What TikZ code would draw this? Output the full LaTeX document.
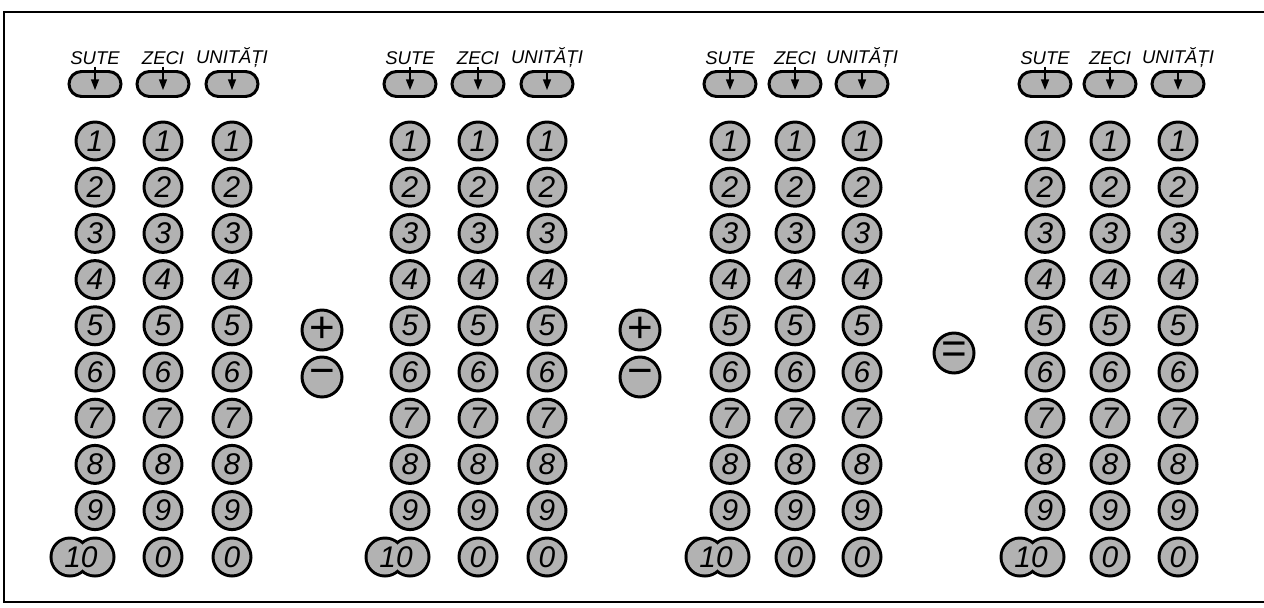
\documentclass[tikz,border=0pt]{standalone}
\usepackage{fontspec}
\setmainfont{Liberation Sans}
\usetikzlibrary{arrows.meta,calc}

\begin{document}
\begin{tikzpicture}[x=0.02cm, y=-0.02cm,
  key/.style={
    circle, draw=black, line width=1.7pt, fill=black!30,
    minimum size=0.76cm, inner sep=0pt, font=\fontsize{17}{17}\selectfont\itshape
  },
  opkey/.style={key, minimum size=0.8cm, font=\fontsize{25}{25}\selectfont},
  pill/.style={
    draw=black, line width=1.7pt, fill=black!30, rounded corners=0.25cm,
    minimum width=1.04cm, minimum height=0.5cm, inner sep=0pt
  },
  colname/.style={font=\fontsize{10.5}{11}\selectfont\itshape, inner sep=1pt},
  arrow/.style={-{Triangle[length=6pt,width=4.5pt]}, line width=0.8pt}
]
\useasboundingbox (0,0) rectangle (1264,608);
% frame
\draw[line width=1.4pt] (1264,12) -- (4,12) -- (4,602) -- (1264,602);

% four counting boards
\foreach \g/\xs/\xz/\xu in {1/95/163/232, 2/410/478/547, 3/730/795/862, 4/1045/1110/1178}{
  \foreach \c/\x/\lbltext in {s/\xs/SUTE, z/\xz/ZECI, u/\xu/UNITĂȚI}{
    \node[colname] (g\g-\c-lbl) at (\x,58) {\lbltext};
    \node[pill] (g\g-\c-pill) at (\x,84) {};
    \draw[arrow] (g\g-\c-lbl.south) -- ($(g\g-\c-pill.center)+(0,6)$);
    \foreach \d in {1,...,9}
      \node[key] (g\g-\c-\d) at (\x,{141+46.2*(\d-1)}) {\d};
  }
  \node[key] (g\g-z-0) at (\xz,557) {0};
  \node[key] (g\g-u-0) at (\xu,557) {0};
  % double key 10
  \draw[line width=3.4pt] (\xs-25,557) circle[radius=0.38cm-0.85pt] (\xs,557) circle[radius=0.38cm-0.85pt];
  \fill[black!30] (\xs-25,557) circle[radius=0.38cm-0.85pt] (\xs,557) circle[radius=0.38cm-0.85pt];
  \node[font=\fontsize{17}{17}\selectfont\itshape] (g\g-s-10) at (\xs-14,557) {10};
}

% operation keys
\node[opkey] (plus1) at (322,330) {+};
\node[opkey] (minus1) at (322,377) {−};
\node[opkey] (plus2) at (640,330) {+};
\node[opkey] (minus2) at (640,377) {−};
\node[opkey] (equals) at (954,353) {=};
\end{tikzpicture}
\end{document}
